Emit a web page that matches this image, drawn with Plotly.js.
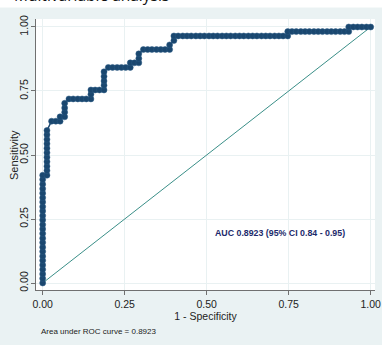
<!DOCTYPE html>
<html>
<head>
<meta charset="utf-8">
<script src="https://cdn.plot.ly/plotly-3.0.1.min.js"></script>
<style>html,body{margin:0;padding:0;background:#fff;}#chart{width:382px;height:345px;}</style>
</head>
<body>
<div id="chart"></div>
<script>
// ROC curve points (1 - specificity, sensitivity)
const fpr = [
  0,0,0,0,0,0,0,0,0,0,0,0,0,0,0,0,0,0,0,0,0,0,0,0,0,
  .013,.013,.013,.013,.013,.013,.013,.013,.013,.013,.013,
  .027,.04,.053,.053,.067,.067,.067,.067,
  .08,.093,.107,.12,.133,.147,.147,.147,
  .16,.173,.187,.187,.187,.187,.187,
  .2,.213,.227,.24,.253,.267,.267,
  .28,.293,.293,.293,
  .307,.32,.333,.347,.36,.373,.387,.387,
  .4,.4,
  .413,.427,.44,.453,.467,.48,.493,.507,.52,.533,.547,.56,.573,.587,.6,.613,.627,.64,.653,.667,.68,.693,.707,.72,.733,.747,
  .747,.76,.773,.787,.8,.813,.827,.84,.853,.867,.88,.893,.907,.92,.933,
  .933,.947,.96,.973,.987,1
];
const tpr = [
  0,.018,.035,.053,.07,.088,.105,.123,.14,.158,.175,.193,.211,.228,.246,.263,.281,.298,.316,.333,.351,.368,.386,.404,.421,
  .421,.439,.456,.474,.491,.509,.526,.544,.561,.579,.596,
  .632,.632,.632,.649,.649,.667,.684,.702,
  .719,.719,.719,.719,.719,.719,.737,.754,
  .754,.754,.754,.772,.789,.807,.825,
  .842,.842,.842,.842,.842,.842,.86,
  .86,.86,.877,.895,
  .912,.912,.912,.912,.912,.912,.912,.93,
  .947,.965,
  .965,.965,.965,.965,.965,.965,.965,.965,.965,.965,.965,.965,.965,.965,.965,.965,.965,.965,.965,.965,.965,.965,.965,.965,.965,.965,
  .982,.982,.982,.982,.982,.982,.982,.982,.982,.982,.982,.982,.982,.982,.982,
  1,1,1,1,1,1
];
const refX = [0, 1];
const refY = [0, 1];
const tickVals = [0, 0.25, 0.5, 0.75, 1];
const tickText = ['0.00', '0.25', '0.50', '0.75', '1.00'];
const aucText = 'AUC 0.8923 (95% CI 0.84 - 0.95)';
const noteText = 'Area under ROC curve = 0.8923';
const titleText = 'Multivariable analysis';
const xTitle = '1 - Specificity';
const yTitle = 'Sensitivity';

const navy = '#1a476f';
const font = 'Liberation Sans, Arial, sans-serif';

const traces = [
  {x: refX, y: refY, mode: 'lines', line: {color: '#3a8f88', width: 1}, hoverinfo: 'skip'},
  {x: fpr, y: tpr, mode: 'lines+markers', line: {color: navy, width: 1.5},
   marker: {color: navy, size: 6, line: {color: '#2a5a85', width: 0.5}}}
];

const axisCommon = {
  tickvals: tickVals, ticktext: tickText,
  showgrid: true, gridcolor: '#e9f1f2', gridwidth: 1,
  zeroline: false, showline: true, linecolor: '#707070', linewidth: 1,
  ticks: 'outside', ticklen: 4, tickcolor: '#707070', tickwidth: 1,
  tickfont: {family: font, size: 10.5, color: '#222'}
};

const layout = {
  width: 382, height: 345,
  margin: {l: 36, r: 7, t: 19, b: 55, pad: 0},
  paper_bgcolor: '#eaf2f3', plot_bgcolor: '#ffffff',
  showlegend: false,
  xaxis: Object.assign({}, axisCommon, {
    range: [-0.0204, 1.0131],
    title: {text: xTitle, font: {family: font, size: 10.5, color: '#222'}, standoff: 2}
  }),
  yaxis: Object.assign({}, axisCommon, {
    range: [-0.0273, 1.0312], tickangle: -90, ticklabelstandoff: -1
  }),
  shapes: [
    {type: 'rect', xref: 'paper', yref: 'paper', x0: -0.12, x1: 1.03, y0: 1.0424, y1: 1.08,
     fillcolor: '#ffffff', line: {width: 0}, layer: 'below'}
  ],
  annotations: [
    {text: yTitle, xref: 'paper', yref: 'paper', x: -0.0649, y: 0.498, xanchor: 'center', yanchor: 'middle',
     textangle: -90, showarrow: false, font: {family: font, size: 11, color: '#222'}},
    {text: aucText, xref: 'paper', yref: 'paper', x: 0.5212, y: 0.2114, xanchor: 'left', yanchor: 'middle',
     showarrow: false, font: {family: font, size: 8.8, color: '#1c2a6b', weight: 'bold'}},
    {text: noteText, xref: 'paper', yref: 'paper', x: 0.0088, y: -0.1513, xanchor: 'left', yanchor: 'middle',
     showarrow: false, font: {family: font, size: 8, color: '#222'}},
    {text: titleText, xref: 'paper', yref: 'paper', x: -0.0678, y: 1.0443, xanchor: 'left', yanchor: 'bottom',
     showarrow: false, borderpad: 0, font: {family: 'Open Sans, sans-serif', size: 15.5, color: '#111'}}
  ]
};

Plotly.newPlot('chart', traces, layout, {displayModeBar: false, staticPlot: true});
</script>
</body>
</html>
